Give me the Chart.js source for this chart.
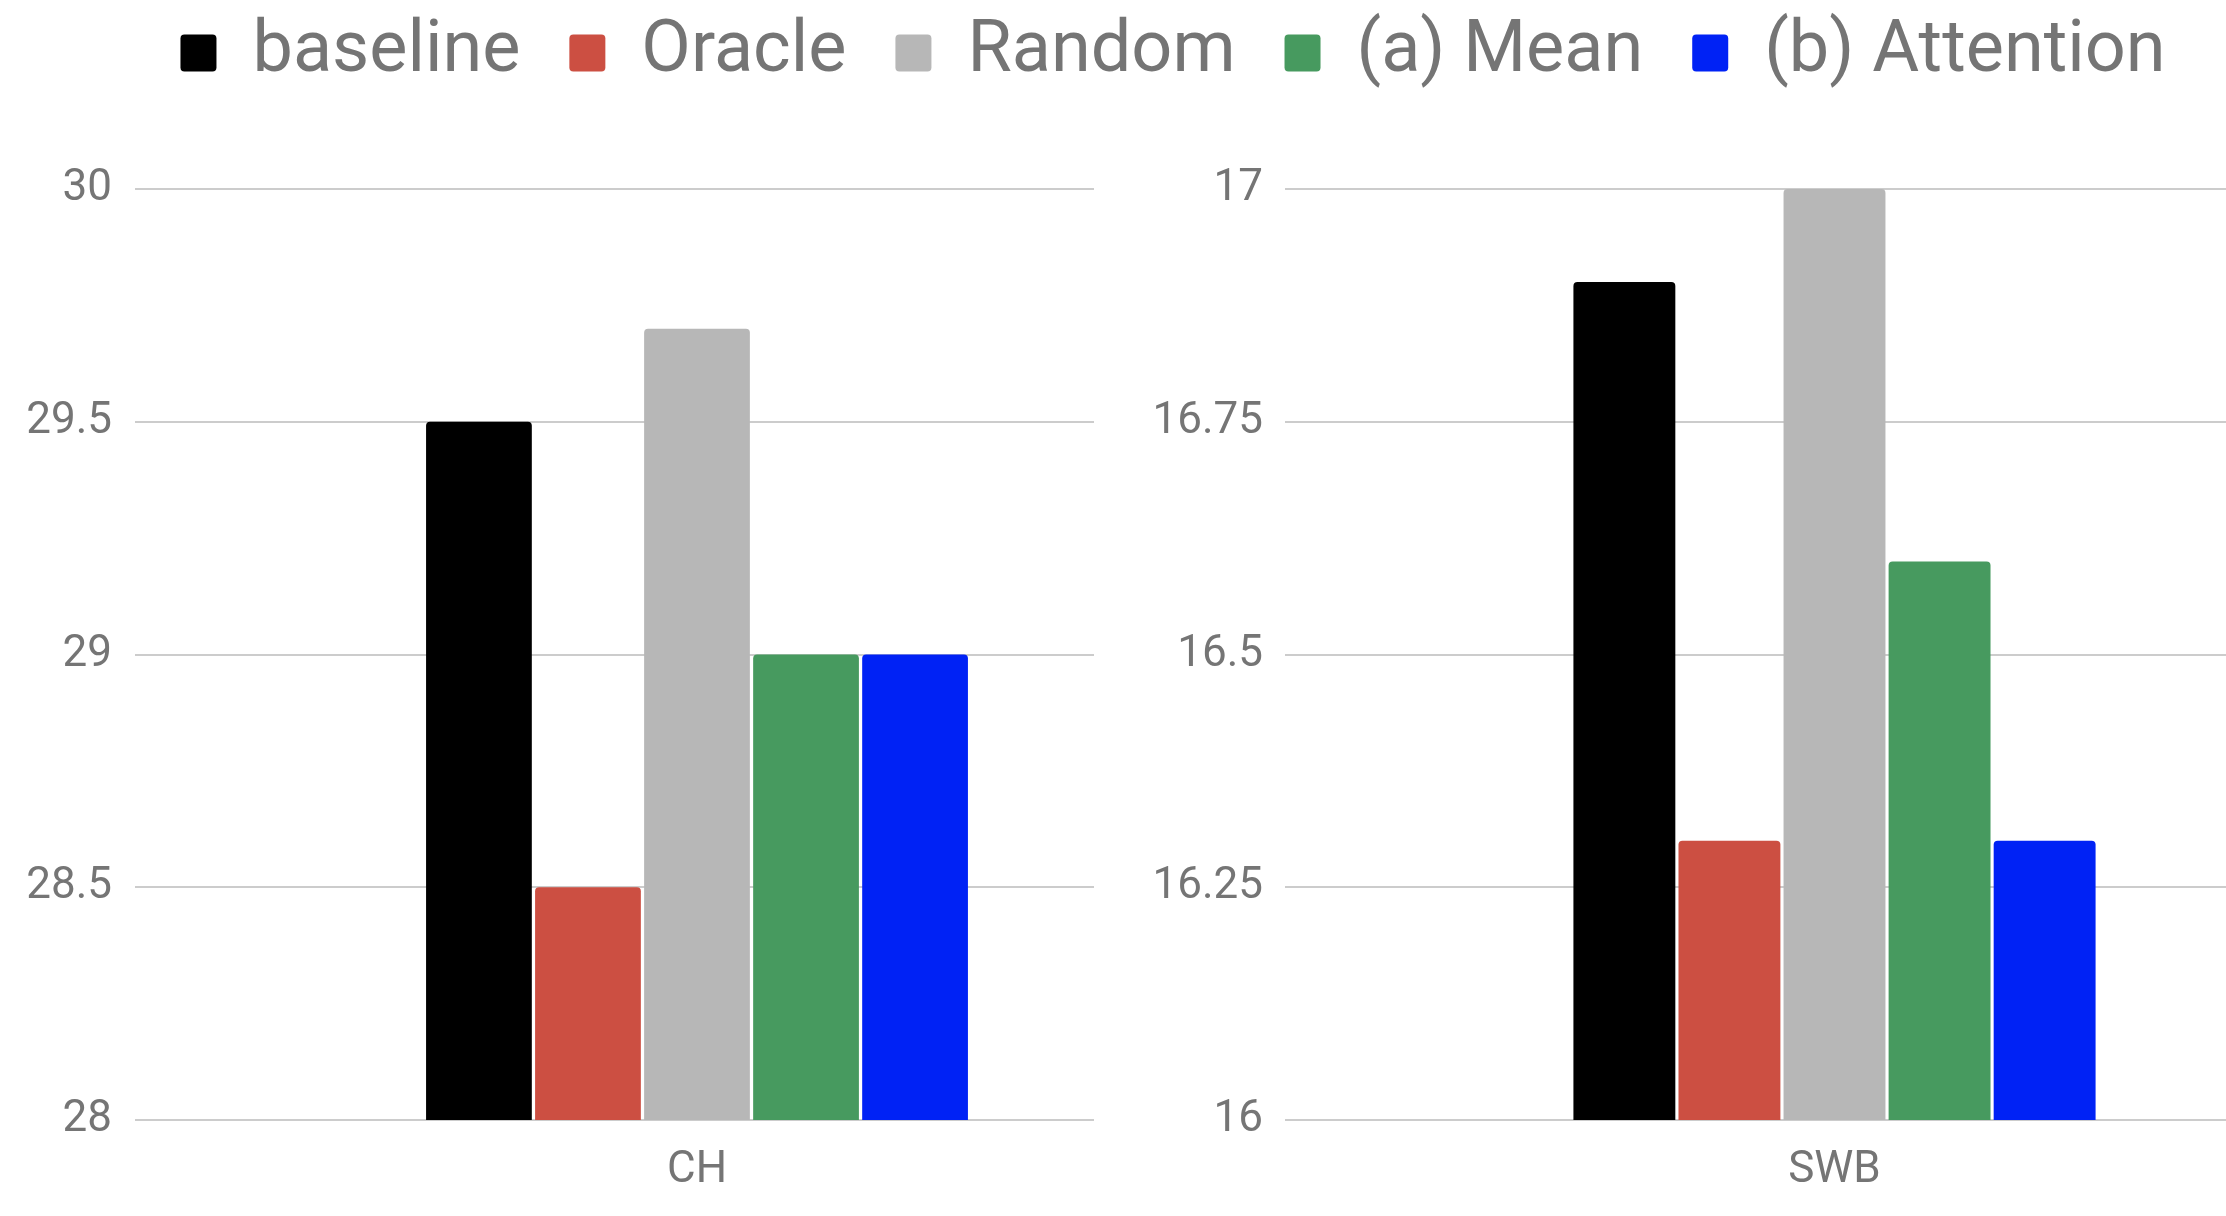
<!DOCTYPE html>
<html>
<head>
<meta charset="utf-8">
<script src="https://cdn.jsdelivr.net/npm/chart.js@4.4.1/dist/chart.umd.min.js"></script>
<style>
  html, body { margin: 0; padding: 0; background: #ffffff; }
  body { width: 2226px; height: 1216px; position: relative; overflow: hidden; }
  .box { position: absolute; overflow: hidden; }
  .inner { position: relative; height: 100%; }
</style>
</head>
<body>
<div class="box" style="left:0; top:130px; width:1094px; height:1086px;">
  <div class="inner" style="width:1300px;"><canvas id="chChart"></canvas></div>
</div>
<div class="box" style="left:1100px; top:130px; width:1126px; height:1086px;">
  <div class="inner" style="width:1300px;"><canvas id="swbChart"></canvas></div>
</div>
<div class="box" id="legendBox" style="left:60px; top:-32px; width:2226px; height:400px; pointer-events:none;">
  <div class="inner" style="width:2226px;"><canvas id="legendChart"></canvas></div>
</div>
<script>
document.addEventListener("DOMContentLoaded", function () {
    // series names and colours
    const seriesNames = ['baseline', 'Oracle', 'Random', '(a) Mean', '(b) Attention'];
    const seriesColors = ['#000000', '#cc4f42', '#b7b7b7', '#479a5f', '#0022f5'];

    // CH panel
    const chLabels = ['CH'];
    const chValues = [29.5, 28.5, 29.7, 29.0, 29.0];
    const chTicks = [28, 28.5, 29, 29.5, 30];

    // SWB panel
    const swbLabels = ['SWB'];
    const swbValues = [16.9, 16.3, 17.0, 16.6, 16.3];
    const swbTicks = [16, 16.25, 16.5, 16.75, 17];

    const grey = '#757575';
    Chart.defaults.font.family = 'Roboto';

    function makeDatasets(values, cp) {
        return seriesNames.map((name, i) => ({
            label: name,
            data: values.length ? [values[i]] : [],
            backgroundColor: seriesColors[i],
            borderWidth: 0,
            borderRadius: 4,
            borderSkipped: 'bottom',
            categoryPercentage: cp,
            barPercentage: 0.97
        }));
    }

    function panel(ctx, labels, values, ticks, cp, axisWidth, padRight, tickPad) {
        return new Chart(ctx, {
            type: 'bar',
            data: { labels: labels, datasets: makeDatasets(values, cp) },
            options: {
                responsive: true, maintainAspectRatio: false, animation: false,
                layout: { padding: { top: 59, right: padRight, left: 0, bottom: 0 } },
                plugins: { legend: { display: false }, tooltip: { enabled: false } },
                scales: {
                    x: {
                        grid: { display: false },
                        border: { display: false },
                        ticks: { color: grey, font: { size: 44 }, padding: 17 },
                        afterFit: s => { s.height = 96; }
                    },
                    y: {
                        min: ticks[0], max: ticks[ticks.length - 1],
                        afterBuildTicks: s => { s.ticks = ticks.map(v => ({ value: v })); },
                        grid: { color: '#cccccc', lineWidth: 2, drawTicks: false },
                        border: { display: false },
                        ticks: {
                            color: grey, font: { size: 44 }, padding: tickPad,
                            callback: v => String(v)
                        },
                        afterFit: s => { s.width = axisWidth; }
                    }
                }
            }
        });
    }

    panel(document.getElementById('chChart'), chLabels, chValues, chTicks, 0.485, 135, 41, 23);
    panel(document.getElementById('swbChart'), swbLabels, swbValues, swbTicks, 0.478, 185, 16, 22);

    // legend only
    new Chart(document.getElementById('legendChart'), {
        type: 'bar',
        data: { labels: [], datasets: makeDatasets([], 0.5) },
        options: {
            responsive: true, maintainAspectRatio: false, animation: false,
            layout: { padding: 0 },
            scales: { x: { display: false }, y: { display: false } },
            plugins: {
                tooltip: { enabled: false },
                legend: {
                    position: 'top',
                    labels: {
                        color: grey, font: { size: 72 },
                        boxWidth: 36, boxHeight: 37, padding: 49,
                        useBorderRadius: true, borderRadius: 4
                    }
                }
            }
        }
    });
});
</script>
</body>
</html>
